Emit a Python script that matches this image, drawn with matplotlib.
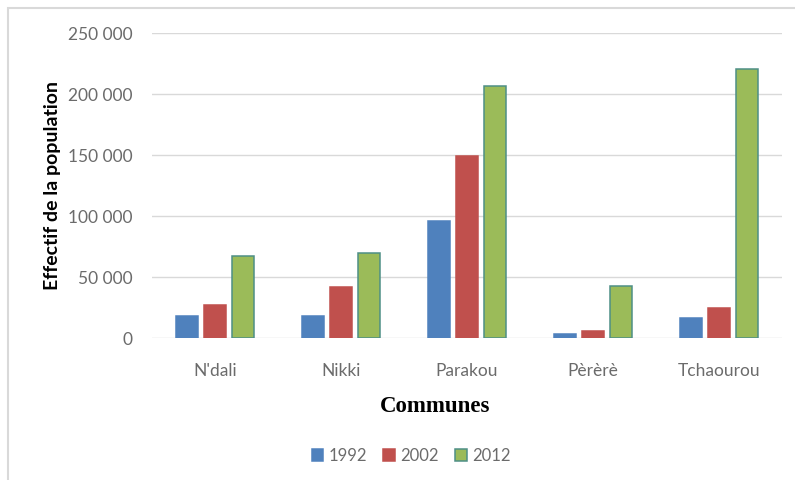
import matplotlib.pyplot as plt
import matplotlib.patches as patches
from matplotlib.ticker import FuncFormatter
import numpy as np

# Communes et effectifs de population par recensement
communes = ["N'dali", "Nikki", "Parakou", "Pèrèrè", "Tchaourou"]
annees = ["1992", "2002", "2012"]
pop_1992 = [18000, 18000, 96000, 3300, 16000]
pop_2002 = [27000, 41500, 149400, 5700, 24300]
pop_2012 = [67200, 69900, 206300, 42600, 220500]

couleurs = ["#4f81bd", "#c0504d", "#9bbb59"]
bords = ["#4f81bd", "#c0504d", "#4e8f86"]

plt.rcParams['font.family'] = ['Lato', 'DejaVu Sans']

fig = plt.figure(figsize=(7.95, 4.8), dpi=100)
ax = fig.add_axes([0.1912, 0.2958, 0.7924, 0.6354])

# cadre du graphique
fig.patches.append(patches.Rectangle((8 / 795, -0.1), 1.2, 1 - 8 / 480 + 0.1,
                                     transform=fig.transFigure, fill=False,
                                     edgecolor="#d9d9d9", linewidth=1.5))

x = np.arange(len(communes))
largeur = 0.175
decalage = 0.22
series = [pop_1992, pop_2002, pop_2012]
for i, (serie, annee) in enumerate(zip(series, annees)):
    ax.bar(x + (i - 1) * decalage, serie, width=largeur, color=couleurs[i],
           edgecolor=bords[i], linewidth=1.1, label=annee, zorder=3)

ax.set_xlim(-0.5, 4.5)
ax.set_ylim(0, 250000)
ax.set_yticks(np.arange(0, 250001, 50000))
ax.yaxis.set_major_formatter(FuncFormatter(lambda v, p: f"{int(v):,}".replace(",", " ")))
ax.set_xticks(x)
ax.set_xticklabels(communes)
ax.grid(axis='y', color="#d9d9d9", linewidth=1, zorder=0)
for s in ax.spines.values():
    s.set_visible(False)
ax.tick_params(length=0, labelsize=12.5, colors="#6b6b6b")
ax.tick_params(axis='x', pad=18)
ax.tick_params(axis='y', pad=14)

ax.set_ylabel("Effectif de la population", fontsize=14, fontweight='bold',
              color="black", labelpad=5)
fig.text(0.547, 1 - 407 / 480, "Communes", fontsize=16.5, fontweight='bold',
         family='Liberation Serif', ha='center', va='center')

fig.legend(loc='center', bbox_to_anchor=(0.517, 1 - 456 / 480), ncol=3,
           frameon=False, fontsize=12, handlelength=0.7, handleheight=0.7,
           handletextpad=0.3, columnspacing=1.0, labelcolor="#6b6b6b")

fig.savefig("out.png", dpi=100)
